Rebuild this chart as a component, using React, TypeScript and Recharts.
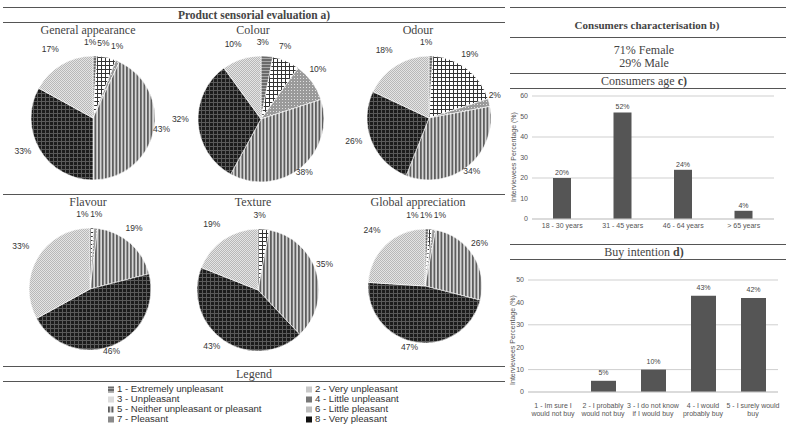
import React from 'react';
import { PieChart, Pie, Cell, BarChart, Bar, XAxis, YAxis, CartesianGrid, LabelList } from 'recharts';

// legend categories of the hedonic scale
const CATEGORIAS = [
  '1 - Extremely unpleasant',
  '2 - Very unpleasant',
  '3 - Unpleasant',
  '4 - Little unpleasant',
  '5 - Neither unpleasant or pleasant',
  '6 - Little pleasant',
  '7 - Pleasant',
  '8 - Very pleasant',
];

// slice types in the order they are drawn (clockwise from 12 o'clock)
const TIPOS_SECTOR = ['pA', 'pB', 'pC', 'pD', 'pE', 'pF'];

const generalAppearance = [1, 5, 1, 43, 33, 17];
const colour = [3, 7, 10, 38, 32, 10];
const odour = [1, 19, 2, 34, 26, 18];
const flavour = [0, 1, 1, 19, 46, 33];
const texture = [0, 3, 0, 35, 43, 19];
const globalAppreciation = [1, 1, 1, 26, 47, 24];

const edades = ['18 - 30 years', '31 - 45 years', '46 - 64 years', '> 65 years'];
const edadValores = [20, 52, 24, 4];

const intencion = [
  '1 - Im sure I|would not buy',
  '2 - I probably|would not buy',
  '3 - I do not know|if I would buy',
  '4 - I would|probably buy',
  '5 - I surely would|buy',
];
const intencionValores = [0, 5, 10, 43, 42];

const MARCADORES = ['url(#pA)', '#c8c8c8', '#dcdcdc', '#777', 'url(#pD)', '#bdbdbd', '#8a8a8a', '#111'];

const SERIF = '"Liberation Serif", serif';
const SANS = '"Liberation Sans", Arial, sans-serif';

const PIES = [
  { title: 'General appearance', values: generalAppearance, cx: 88, cy: 113, r: 62, tx: 88, ty: 30 },
  { title: 'Colour', values: colour, cx: 256, cy: 114, r: 63, tx: 253, ty: 30 },
  { title: 'Odour', values: odour, cx: 424, cy: 113, r: 62, tx: 418, ty: 30 },
  { title: 'Flavour', values: flavour, cx: 85, cy: 284, r: 61, tx: 88, ty: 202 },
  { title: 'Texture', values: texture, cx: 253, cy: 285, r: 61, tx: 253, ty: 202 },
  { title: 'Global appreciation', values: globalAppreciation, cx: 420, cy: 281, r: 57, tx: 418, ty: 202 },
];

function Patrones() {
  return (
    <svg width={0} height={0} style={{ position: 'absolute' }}>
      <defs>
        <pattern id="pA" width="3" height="3" patternUnits="userSpaceOnUse">
          <rect width="3" height="3" fill="#6a6a6a" />
          <rect y="2" width="3" height="1" fill="#a8a8a8" />
        </pattern>
        <pattern id="pB" width="4" height="4" patternUnits="userSpaceOnUse">
          <rect width="4" height="4" fill="#fff" />
          <rect width="1" height="4" fill="#333" />
          <rect width="4" height="1" fill="#333" />
        </pattern>
        <pattern id="pC" width="3" height="3" patternUnits="userSpaceOnUse">
          <rect width="3" height="3" fill="#9a9a9a" />
          <rect x="1" y="1" width="1" height="1" fill="#e0e0e0" />
        </pattern>
        <pattern id="pD" width="3.5" height="4" patternUnits="userSpaceOnUse">
          <rect width="3.5" height="4" fill="#d8d8d8" />
          <rect width="1.8" height="4" fill="#5e5e5e" />
        </pattern>
        <pattern id="pE" width="4" height="4" patternUnits="userSpaceOnUse">
          <rect width="4" height="4" fill="#1c1c1c" />
          <rect width="1" height="4" fill="#5a5a5a" />
          <rect width="4" height="1" fill="#5a5a5a" />
        </pattern>
        <pattern id="pF" width="2" height="2" patternUnits="userSpaceOnUse">
          <rect width="2" height="2" fill="#e4e4e4" />
          <rect width="1" height="1" fill="#b8b8b8" />
          <rect x="1" y="1" width="1" height="1" fill="#b8b8b8" />
        </pattern>
      </defs>
    </svg>
  );
}

const semiAncho = (v: number) => (String(v).length * 4.7 + 7.6) / 2;

// label anchor points placed just outside the rim; tiny neighbours are spread apart
function posicionesEtiquetas(valores: number[], cx: number, cy: number, r: number) {
  const total = valores.reduce((a, b) => a + b, 0);
  let acc = 0;
  const pos = valores.map((v) => {
    const mid = ((acc + v / 2) / total) * 2 * Math.PI;
    acc += v;
    const s = Math.sin(mid);
    const c = Math.cos(mid);
    const R = r + 4 + Math.abs(s) * semiAncho(v) + Math.abs(c) * 4.5;
    return { x: cx + R * s, y: cy - R * c, hw: semiAncho(v) };
  });
  let i = 0;
  while (i < pos.length) {
    let j = i;
    while (j + 1 < pos.length && Math.abs(pos[j + 1].y - pos[j].y) < 9 && pos[j + 1].x - pos[j].x < pos[j].hw + pos[j + 1].hw + 1) j++;
    if (j > i) {
      const media = pos.slice(i, j + 1).reduce((a, p) => a + p.x, 0) / (j - i + 1);
      const paso = pos[i].hw * 2 + 1.5;
      const inicio = media - ((j - i) * paso) / 2;
      for (let k = i; k <= j; k++) pos[k].x = inicio + (k - i) * paso;
    }
    i = j + 1;
  }
  return pos;
}

function Torta({ title, values, cx, cy, r, tx, ty }: any) {
  const data = values
    .map((v: number, i: number) => ({ name: TIPOS_SECTOR[i], value: v }))
    .filter((d: any) => d.value > 0);
  const w = 190;
  const h = 176;
  const pos = posicionesEtiquetas(data.map((d: any) => d.value), w / 2, h / 2, r);
  const etiqueta = (props: any) => {
    const p = pos[props.index];
    return (
      <text x={p.x} y={p.y} textAnchor="middle" dominantBaseline="central" fontSize={8.5} fill="#333" fontFamily={SANS}>
        {`${props.value}%`}
      </text>
    );
  };
  return (
    <>
      <div style={{ position: 'absolute', left: tx - 80, top: ty - 6, width: 160, textAlign: 'center', fontFamily: SERIF, fontSize: 12, color: '#444', lineHeight: '12px' }}>
        {title}
      </div>
      <div style={{ position: 'absolute', left: cx - w / 2, top: cy - h / 2 }}>
        <PieChart width={w} height={h}>
          <Pie
            data={data}
            dataKey="value"
            nameKey="name"
            cx={w / 2}
            cy={h / 2}
            outerRadius={r}
            startAngle={90}
            endAngle={-270}
            stroke="#fff"
            strokeWidth={0.6}
            label={etiqueta}
            labelLine={false}
            isAnimationActive={false}
          >
            {data.map((d: any, i: number) => (
              <Cell key={`c-${i}`} fill={`url(#${d.name})`} />
            ))}
          </Pie>
        </PieChart>
      </div>
    </>
  );
}

function Linea({ x1, x2, y }: any) {
  return <div style={{ position: 'absolute', left: x1, top: y, width: x2 - x1, height: 1.3, background: '#555' }} />;
}

function Texto({ x, y, w, children, size = 12, bold = false }: any) {
  return (
    <div style={{ position: 'absolute', left: x - w / 2, top: y - 7, width: w, textAlign: 'center', fontFamily: SERIF, fontSize: size, fontWeight: bold ? 'bold' : 'normal', color: '#444', lineHeight: '14px' }}>
      {children}
    </div>
  );
}

function EtiquetaY({ x, y }: any) {
  return (
    <div style={{ position: 'absolute', left: x - 60, top: y - 5, width: 120, height: 10, textAlign: 'center', fontFamily: SANS, fontSize: 7, color: '#555', lineHeight: '10px', transform: 'rotate(-90deg)' }}>
      Interviewees Percentage (%)
    </div>
  );
}

const TickDosLineas = (props: any) => {
  const { x, y, payload } = props;
  const partes = String(payload.value).split('|');
  return (
    <text x={x} y={y} textAnchor="middle" fontSize={7} fill="#555" fontFamily={SANS}>
      {partes.map((p, i) => (
        <tspan key={i} x={x} dy={8}>{p}</tspan>
      ))}
    </text>
  );
};

export default function App() {
  const datosEdad = edades.map((e, i) => ({ name: e, value: edadValores[i] }));
  const datosCompra = intencion.map((e, i) => ({ name: e, value: intencionValores[i] }));
  const fmt = (v: any) => (v > 0 ? `${v}%` : '');

  return (
    <div style={{ position: 'absolute', left: 0, top: 0, width: 792, height: 433, background: '#fff', overflow: 'hidden' }}>
      <Patrones />

      {/* panel a */}
      <Linea x1={3} x2={505} y={7} />
      <Texto x={254} y={15} w={300} size={11.5} bold>Product sensorial evaluation a)</Texto>
      <Linea x1={3} x2={505} y={22} />
      {PIES.map((p) => (
        <Torta key={p.title} {...p} />
      ))}
      <Linea x1={3} x2={505} y={194} />
      <Linea x1={3} x2={505} y={366} />
      <Texto x={254} y={374} w={200} size={12}>Legend</Texto>
      <Linea x1={3} x2={505} y={381} />
      {CATEGORIAS.map((c, i) => {
        const col = i % 2;
        const row = Math.floor(i / 2);
        return (
          <div key={c} style={{ position: 'absolute', left: col === 0 ? 108 : 306, top: 384 + row * 10, height: 10, display: 'flex', alignItems: 'center', fontFamily: SANS, fontSize: 9.6, color: '#333', lineHeight: '10px', whiteSpace: 'nowrap' }}>
            <svg width={7} height={7} style={{ marginRight: 2 }}>
              <rect width={6} height={6} y={0.5} fill={MARCADORES[i]} />
            </svg>
            {c}
          </div>
        );
      })}

      {/* panel b */}
      <Linea x1={510} x2={786} y={7} />
      <Texto x={647} y={25} w={260} size={11} bold>Consumers characterisation b)</Texto>
      <Linea x1={510} x2={786} y={37} />
      <Texto x={644} y={50} w={200}>71% Female</Texto>
      <Texto x={644} y={63} w={200}>29% Male</Texto>
      <Linea x1={510} x2={786} y={73} />

      {/* panel c */}
      <Texto x={644} y={81} w={200}>Consumers age <b>c)</b></Texto>
      <Linea x1={510} x2={786} y={88} />
      <EtiquetaY x={514} y={157} />
      <div style={{ position: 'absolute', left: 505, top: 88 }}>
        <BarChart width={285} height={150} data={datosEdad} margin={{ top: 8, right: 16, bottom: 3, left: 0 }}>
          <CartesianGrid vertical={false} stroke="#cfcfcf" />
          <XAxis dataKey="name" axisLine={{ stroke: '#cfcfcf' }} tickLine={false} tickSize={0} tickMargin={4} height={16} interval={0} tick={{ fontSize: 7, fill: '#555', fontFamily: SANS }} />
          <YAxis domain={[0, 60]} ticks={[0, 10, 20, 30, 40, 50, 60]} width={27} axisLine={false} tickLine={false} tickSize={0} tickMargin={4} tick={{ fontSize: 7, fill: '#555', fontFamily: SANS }} />
          <Bar dataKey="value" fill="#555" barSize={18} isAnimationActive={false}>
            <LabelList dataKey="value" position="top" offset={3} formatter={fmt} style={{ fontSize: 7, fill: '#444', fontFamily: SANS }} />
          </Bar>
        </BarChart>
      </div>

      {/* panel d */}
      <Linea x1={510} x2={786} y={244} />
      <Texto x={644} y={252} w={200}>Buy intention <b>d)</b></Texto>
      <Linea x1={510} x2={786} y={259} />
      <EtiquetaY x={513} y={340} />
      <div style={{ position: 'absolute', left: 505, top: 270 }}>
        <BarChart width={285} height={150} data={datosCompra} margin={{ top: 10, right: 12, bottom: 0, left: 0 }}>
          <CartesianGrid vertical={false} stroke="#cfcfcf" />
          <XAxis dataKey="name" axisLine={{ stroke: '#cfcfcf' }} tickLine={false} height={28} interval={0} tick={<TickDosLineas />} />
          <YAxis domain={[0, 50]} ticks={[0, 10, 20, 30, 40, 50]} width={23} axisLine={false} tickLine={false} tickSize={0} tickMargin={4} tick={{ fontSize: 7, fill: '#555', fontFamily: SANS }} />
          <Bar dataKey="value" fill="#555" barSize={25} isAnimationActive={false}>
            <LabelList dataKey="value" position="top" offset={6} formatter={fmt} style={{ fontSize: 7, fill: '#444', fontFamily: SANS }} />
          </Bar>
        </BarChart>
      </div>
    </div>
  );
}
